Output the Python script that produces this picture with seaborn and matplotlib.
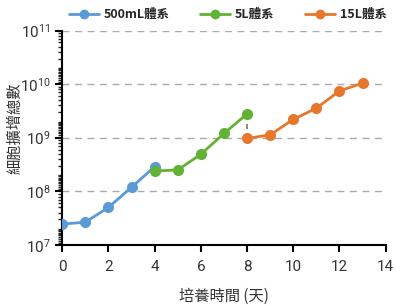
import matplotlib
matplotlib.use('Agg')
import matplotlib.pyplot as plt
import seaborn as sns
import pandas as pd
from matplotlib.ticker import LogLocator, NullFormatter

# values
days_500ml = [0, 1, 2, 3, 4]
cells_500ml = [2.45e7, 2.65e7, 5.0e7, 1.19e8, 2.87e8]
days_5l = [4, 5, 6, 7, 8]
cells_5l = [2.39e8, 2.5e8, 4.9e8, 1.2e9, 2.78e9]
days_15l = [8, 9, 10, 11, 12, 13]
cells_15l = [9.7e8, 1.13e9, 2.2e9, 3.55e9, 7.46e9, 1.04e10]
series_names = ['500mL體系', '5L體系', '15L體系']
colors = ['#5B9BD5', '#62B233', '#E8772E']

df = pd.concat([
    pd.DataFrame({'day': days_500ml, 'cells': cells_500ml, 'system': series_names[0]}),
    pd.DataFrame({'day': days_5l, 'cells': cells_5l, 'system': series_names[1]}),
    pd.DataFrame({'day': days_15l, 'cells': cells_15l, 'system': series_names[2]}),
])

sns.set_style('white')
plt.rcParams['font.family'] = ['Roboto', 'Noto Sans CJK TC', 'DejaVu Sans']
plt.rcParams['mathtext.fontset'] = 'custom'
plt.rcParams['mathtext.rm'] = 'Roboto'

fig = plt.figure(figsize=(3.96, 3.05), dpi=100)
ax = fig.add_axes([0.157, 0.197, 0.817, 0.703])

for y in [1e8, 1e9, 1e10, 1e11]:
    ax.axhline(y, color='#AAAAAA', lw=1, ls=(0, (5, 4)), zorder=0)

# dashed link between 5L end and 15L start
ax.plot([days_5l[-1], days_15l[0]], [cells_5l[-1], cells_15l[0]],
        color='#777777', lw=1.2, ls=(0, (3, 3)), zorder=1)

sns.lineplot(data=df, x='day', y='cells', hue='system', hue_order=series_names,
             palette=colors, marker='o', markersize=8, markeredgewidth=0,
             lw=2, ax=ax, legend=False, zorder=3)

ax.set_yscale('log')
ax.set_ylim(1e7, 1e11)
ax.set_xlim(0, 14)
ax.set_xticks(range(0, 15, 2))
ax.yaxis.set_major_locator(LogLocator(base=10, numticks=10))
ax.yaxis.set_minor_locator(LogLocator(base=10, subs=[i / 10 for i in range(2, 20)], numticks=20))
ax.yaxis.set_minor_formatter(NullFormatter())

sns.despine(ax=ax)
for s in ['left', 'bottom']:
    ax.spines[s].set_linewidth(1.5)
    ax.spines[s].set_color('black')
ax.tick_params(axis='both', which='major', direction='out', length=5, width=1.5,
               labelsize=11, colors='black', labelcolor='#333333', left=True, bottom=True)
ax.tick_params(axis='x', which='major', pad=6)
ax.tick_params(axis='y', which='minor', direction='out', length=3, width=1, left=True)

ax.set_xlabel('培養時間 (天)', fontsize=11, color='#333333', labelpad=10,
              family=['Noto Sans CJK TC', 'DejaVu Sans'])
ax.set_ylabel('細胞擴增總數', fontsize=11, color='#333333',
              family=['Noto Sans CJK TC', 'DejaVu Sans'])
ax.yaxis.set_label_coords(-0.12, 0.545)

handles = [plt.Line2D([], [], color=c, marker='o', markersize=6, lw=2) for c in colors]
fig.legend(handles, series_names, loc='upper center', bbox_to_anchor=(0.575, 1.01),
           ncol=3, frameon=False,
           prop={'weight': 'bold', 'size': 9, 'family': ['Noto Sans CJK TC', 'DejaVu Sans']},
           handlelength=2.4, columnspacing=2.4, handletextpad=0.4)

fig.savefig('out.png', dpi=100)
